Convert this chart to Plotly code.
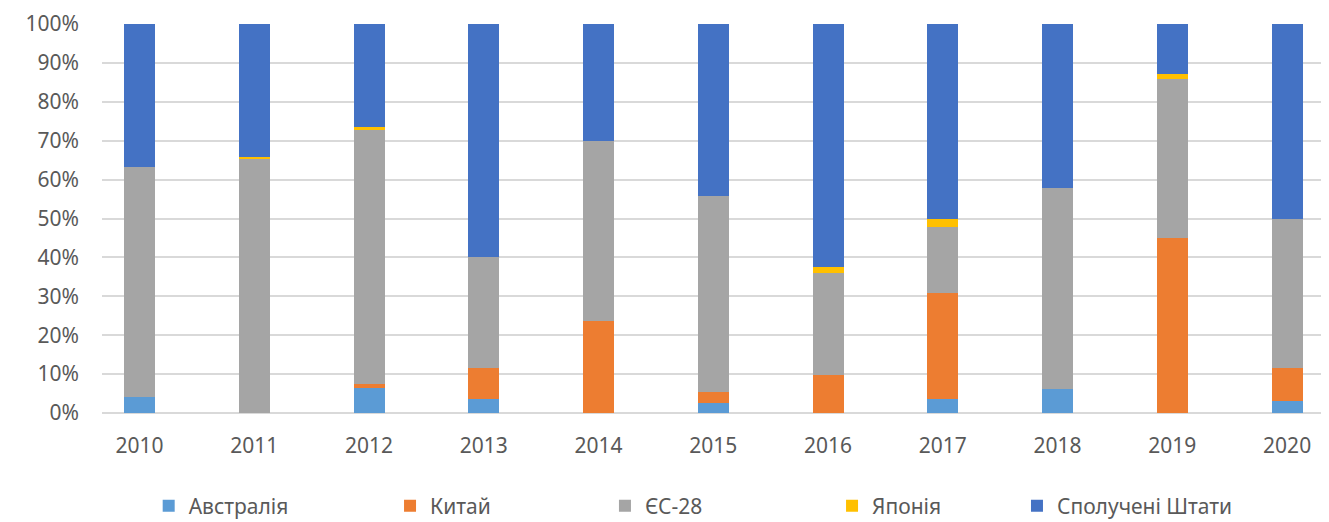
import plotly.graph_objects as go

years = ["2010", "2011", "2012", "2013", "2014", "2015", "2016", "2017", "2018", "2019", "2020"]

australia = [4.0, 0.0, 6.5, 3.6, 0.0, 2.6, 0.0, 3.6, 6.2, 0.0, 3.1]
china = [0.0, 0.0, 1.0, 8.0, 23.7, 2.8, 9.8, 27.2, 0.0, 45.0, 8.5]
eu28 = [59.3, 65.3, 65.3, 28.4, 46.3, 50.4, 26.2, 17.0, 51.6, 40.9, 38.4]
japan = [0.0, 0.6, 0.7, 0.0, 0.0, 0.0, 1.5, 2.1, 0.0, 1.2, 0.0]
usa = [36.7, 34.1, 26.5, 60.0, 30.0, 44.2, 62.5, 50.1, 42.2, 12.9, 50.0]

series = [
    ("Австралія", australia, "#5B9BD5"),
    ("Китай", china, "#ED7D31"),
    ("ЄС-28", eu28, "#A5A5A5"),
    ("Японія", japan, "#FFC000"),
    ("Сполучені Штати", usa, "#4472C4"),
]

# legend positions (container x) so each entry sits where Excel put it
legend_x = [0.1065, 0.2892, 0.4519, 0.6238, 0.7638]

# page body has an 8px margin, so the figure is a bit smaller than the window
W, H = 1321, 514
ML, MR, MT, MB = 94, 4, 16, 109
font = dict(family="Noto Sans", size=21, color="#595959")

fig = go.Figure()
layout_legends = {}
for i, (name, vals, color) in enumerate(series):
    key = "legend" if i == 0 else f"legend{i + 1}"
    fig.add_trace(go.Bar(
        x=list(range(len(years))), y=vals, name=name,
        marker=dict(color=color, line=dict(width=0)),
        width=0.27, legend=key,
    ))
    # container refs keep the legends from pushing the margins
    layout_legends[key] = dict(
        x=legend_x[i], y=0.031, xref="container", yref="container",
        xanchor="left", yanchor="middle",
        orientation="h", bgcolor="rgba(0,0,0,0)",
        font=dict(family="Noto Sans", size=21, color="#595959"),
        itemwidth=30,
    )

fig.update_layout(
    barmode="stack",
    barnorm="percent",
    width=W, height=H,
    margin=dict(l=ML, r=MR, t=MT, b=MB),
    paper_bgcolor="white", plot_bgcolor="white",
    font=font,
    showlegend=True,
    **layout_legends,
)

fig.update_xaxes(
    range=[-0.327, 10.33],
    tickvals=list(range(len(years))), ticktext=years,
    showgrid=False, zeroline=False, showline=False,
    ticks="", tickfont=font, ticklabelstandoff=18, automargin=False,
)
fig.update_yaxes(
    range=[0, 100], dtick=10, ticksuffix="%",
    showgrid=True, gridcolor="#D9D9D9", gridwidth=1.5,
    zeroline=True, zerolinecolor="#D9D9D9", zerolinewidth=1.5,
    showline=False, ticks="", tickfont=font, ticklabelstandoff=22,
    automargin=False,
)

fig.write_html("out.html")
